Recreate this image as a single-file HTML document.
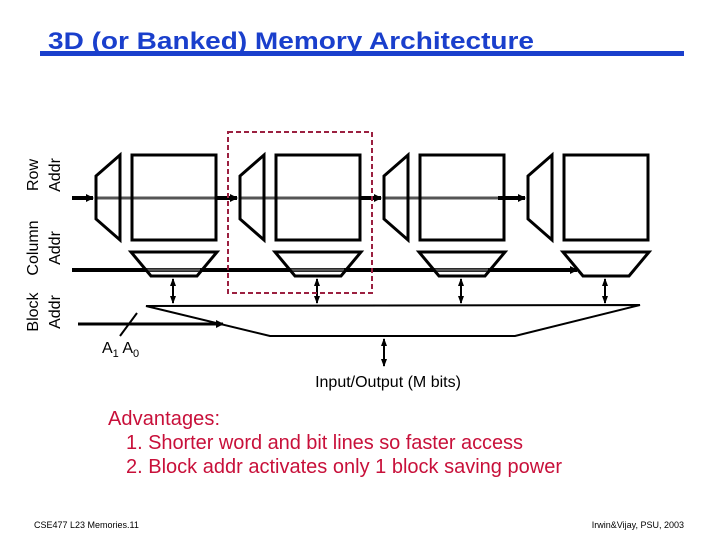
<!DOCTYPE html>
<html><head><meta charset="utf-8"><style>
body{margin:0;background:#fff;}
svg{display:block;font-family:"Liberation Sans",Arial,sans-serif;}
</style></head><body>
<svg width="720" height="540" viewBox="0 0 720 540" xmlns="http://www.w3.org/2000/svg">
<defs>
<marker id="a" markerWidth="8" markerHeight="8" refX="7" refY="4" orient="auto" markerUnits="userSpaceOnUse"><path d="M0,0 L8,4 L0,8 Z" fill="#000"/></marker>
<marker id="s" markerWidth="8" markerHeight="8" refX="7" refY="4" orient="auto-start-reverse" markerUnits="userSpaceOnUse"><path d="M0,1 L8,4 L0,7 Z" fill="#000"/></marker>
</defs>
<text x="48" y="49" font-size="24" font-weight="bold" fill="#1a3fcc" textLength="486" lengthAdjust="spacingAndGlyphs">3D (or Banked) Memory Architecture</text>
<rect x="40" y="51" width="644" height="5" fill="#1a3fcc"/>

<g font-size="16" fill="#000" text-anchor="middle">
<text transform="translate(38,175) rotate(-90)">Row</text>
<text transform="translate(60,175) rotate(-90)">Addr</text>
<text transform="translate(38,248) rotate(-90)">Column</text>
<text transform="translate(60,248) rotate(-90)">Addr</text>
<text transform="translate(38,312) rotate(-90)">Block</text>
<text transform="translate(60,312) rotate(-90)">Addr</text>
</g>

<g stroke="#000" stroke-width="4">
<line x1="72" y1="198" x2="93" y2="198" marker-end="url(#a)"/>
<line x1="216" y1="198" x2="237" y2="198" marker-end="url(#a)"/>
<line x1="360" y1="198" x2="381" y2="198" marker-end="url(#a)"/>
<line x1="498" y1="198" x2="525" y2="198" marker-end="url(#a)"/>
<line x1="72" y1="270" x2="577" y2="270" marker-end="url(#a)"/>
</g>
<g stroke="#555" stroke-width="3">
<line x1="96" y1="198" x2="216" y2="198"/>
<line x1="240" y1="198" x2="360" y2="198"/>
<line x1="384" y1="198" x2="498" y2="198"/>
<line x1="146" y1="270" x2="200" y2="270"/>
<line x1="290" y1="270" x2="344" y2="270"/>
<line x1="434" y1="270" x2="488" y2="270"/>
</g>

<g fill="none" stroke="#000" stroke-width="3">
<g id="b">
<path d="M96,176 L120,155 L120,240 L96,219 Z" fill="none"/>
<rect x="132" y="155" width="84" height="85"/>
<path d="M131,252 L217,252 L197,276 L151,276 Z"/>
</g>
<use href="#b" x="144"/>
<use href="#b" x="288"/>
<use href="#b" x="432"/>
</g>

<g stroke="#000" stroke-width="2">
<line x1="173" y1="279" x2="173" y2="303" marker-start="url(#s)" marker-end="url(#s)"/>
<line x1="317" y1="279" x2="317" y2="303" marker-start="url(#s)" marker-end="url(#s)"/>
<line x1="461" y1="279" x2="461" y2="303" marker-start="url(#s)" marker-end="url(#s)"/>
<line x1="605" y1="279" x2="605" y2="303" marker-start="url(#s)" marker-end="url(#s)"/>
<line x1="384" y1="339" x2="384" y2="366" marker-start="url(#s)" marker-end="url(#s)"/>
</g>
<path d="M146,306 L640,305 L515,336 L270,336 Z" fill="none" stroke="#000" stroke-width="2"/>
<line x1="78" y1="324" x2="223" y2="324" stroke="#000" stroke-width="3" marker-end="url(#a)"/>
<line x1="120" y1="336" x2="137" y2="313" stroke="#000" stroke-width="2"/>
<text x="102" y="353" font-size="16">A<tspan font-size="11" dy="4">1</tspan><tspan dy="-4"> A</tspan><tspan font-size="11" dy="4">0</tspan></text>

<rect x="228" y="132" width="144" height="161" fill="none" stroke="#9b2040" stroke-width="2" stroke-dasharray="5,3"/>

<text x="388" y="387" font-size="16" text-anchor="middle">Input/Output (M bits)</text>
<g font-size="20" fill="#c8103a" lengthAdjust="spacingAndGlyphs">
<text x="108" y="425" textLength="112">Advantages:</text>
<text x="126" y="449" textLength="397">1. Shorter word and bit lines so faster access</text>
<text x="126" y="473" textLength="436">2. Block addr activates only 1 block saving power</text>
</g>
<text x="34" y="528" font-size="9">CSE477  L23 Memories.11</text>
<text x="684" y="528" font-size="9" text-anchor="end">Irwin&amp;Vijay, PSU, 2003</text>
</svg>
</body></html>
